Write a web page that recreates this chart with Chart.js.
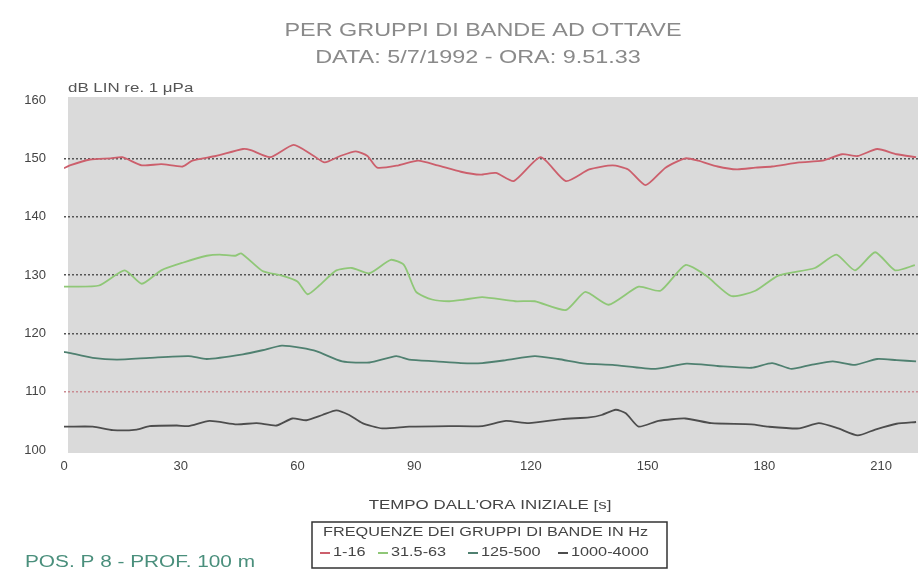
<!DOCTYPE html>
<html>
<head>
<meta charset="utf-8">
<script src="https://cdn.jsdelivr.net/npm/chart.js@4/dist/chart.umd.min.js"></script>
<style>
  body { margin: 0; background: #fff; }
  #wrap { width: 918px; height: 577px; }
</style>
</head>
<body>
<div id="wrap"><canvas id="myChart" width="918" height="577"></canvas></div>
<script>
// legend labels
var bandNames = ["1-16", "31.5-63", "125-500", "1000-4000"];
var bandColors = ["#cc5f6c", "#8fc777", "#4f8070", "#4d4d4d"];

// 1-16 Hz
var t1 = [0, 1.5, 6.7, 12, 15, 20, 25, 30.5, 33, 39, 46, 48, 53, 59, 64, 67, 71, 75, 78, 80.5, 86, 91, 96, 102, 107,
  111, 115.6, 122.5, 129, 135, 141, 145, 149.5, 154.6, 159.7, 163, 168, 173, 177.7, 182, 189, 195, 200, 204, 209, 214, 219];
var v1 = [148.3, 148.8, 149.8, 150, 150.2, 148.8, 149, 148.6, 149.6, 150.4, 151.6, 151.4, 150.2, 152.3, 150.5, 149.3, 150.4, 151.2, 150.4, 148.4, 148.8, 149.6, 148.8, 147.7, 147.2,
  147.5, 146.1, 150.2, 146.1, 148.1, 148.8, 148.1, 145.4, 148.4, 150, 149.6, 148.6, 148.1, 148.4, 148.6, 149.3, 149.6, 150.7, 150.4, 151.6, 150.7, 150.2];

// 31.5-63 Hz
var t2 = [0, 1.5, 9, 15.6, 20, 25, 30.5, 36.7, 40, 44, 45.6, 51, 56, 60, 62.6, 65.6, 70, 74, 78.5, 84, 87.4, 90.5, 94.6, 99, 103, 107.5,
  116, 121, 129, 134, 140, 147.7, 153.3, 159.7, 165, 171.5, 177.7, 183.6, 193, 198.5, 203.3, 208.5, 213.6, 218.7];
var v2 = [128, 128, 128.2, 130.8, 128.5, 130.8, 132.1, 133.3, 133.5, 133.3, 133.7, 130.7, 129.9, 128.9, 126.7, 128.2, 130.8, 131.2, 130.3, 132.6, 131.7, 127.1, 125.8, 125.5, 125.8, 126.2,
  125.5, 125.5, 124, 127.1, 124.9, 128, 127.3, 131.7, 129.9, 126.4, 127.3, 129.9, 131.2, 133.5, 130.8, 133.9, 130.8, 131.7];

// 125-500 Hz
var t3 = [0, 1, 7.4, 13.6, 22, 32, 36.7, 46, 51, 56, 61, 65, 71.5, 78.5, 85.4, 88.7, 95.6, 102, 107.5,
  113.6, 121, 127, 134, 141, 152, 160, 168, 176.7, 182, 187, 192, 197.6, 203.3, 209, 214, 219];
var v3 = [116.8, 116.7, 115.8, 115.5, 115.8, 116.1, 115.6, 116.4, 117.1, 117.9, 117.5, 116.9, 115.2, 115, 116.1, 115.5, 115.2, 114.9, 114.9,
  115.4, 116.1, 115.6, 114.8, 114.6, 113.9, 114.8, 114.4, 114.1, 114.9, 113.9, 114.6, 115.2, 114.6, 115.6, 115.4, 115.2];

// 1000-4000 Hz
var t4 = [0, 1, 7.4, 12.6, 18.7, 22, 29, 32, 37.4, 44.4, 49.5, 54.6, 58.7, 62.3, 66.4, 70, 73.3, 76.7, 81.8, 88.7, 99, 107.5,
  113.6, 119.5, 128, 135, 138.2, 141.8, 144.4, 147.7, 152.8, 159.7, 166.4, 176.7, 181, 189, 194, 199, 204, 208.5, 214, 219];
var v4 = [104, 104, 104, 103.4, 103.5, 104.1, 104.2, 104.1, 105, 104.4, 104.6, 104.2, 105.4, 105.1, 106, 106.8, 106, 104.6, 103.7, 104, 104.1, 104.1,
  105, 104.6, 105.3, 105.6, 106, 106.9, 106.3, 104, 105, 105.4, 104.6, 104.4, 104, 103.7, 104.6, 103.7, 102.5, 103.5, 104.5, 104.8];

var xTicks = [0, 30, 60, 90, 120, 150, 180, 210];
var yTicks = [100, 110, 120, 130, 140, 150, 160];

function pts(t, v) {
  return t.map(function (x, i) { return { x: x, y: v[i] }; });
}

// text in the picture is drawn a bit wide
var SX = 1.3;
function wideText(ctx, text, x, y, font, color, align) {
  ctx.save();
  ctx.font = font;
  ctx.fillStyle = color;
  ctx.textBaseline = "middle";
  ctx.textAlign = "left";
  var w = ctx.measureText(text).width * SX;
  var x0 = align === "center" ? x - w / 2 : (align === "right" ? x - w : x);
  ctx.translate(x0, y);
  ctx.scale(SX, 1);
  ctx.fillText(text, 0, 0);
  ctx.restore();
}

var extras = {
  id: "extras",
  beforeDraw: function (chart) {
    var ctx = chart.ctx, a = chart.chartArea;
    ctx.save();
    ctx.fillStyle = "#dadada";
    ctx.fillRect(a.left + 4, a.top - 3, a.right - a.left, a.bottom - a.top + 6);
    ctx.restore();
  },
  afterDraw: function (chart) {
    var ctx = chart.ctx;
    var f = "'Liberation Sans', Arial, sans-serif";
    wideText(ctx, "PER GRUPPI DI BANDE AD OTTAVE", 483, 31, "18px " + f, "#8a8a8a", "center");
    wideText(ctx, "DATA: 5/7/1992 - ORA: 9.51.33", 478, 58, "18px " + f, "#8a8a8a", "center");
    wideText(ctx, "dB LIN re. 1 \u03bcPa", 68, 88, "13px " + f, "#555", "left");
    wideText(ctx, "TEMPO DALL'ORA INIZIALE [s]", 490, 505, "13px " + f, "#444", "center");
    wideText(ctx, "POS. P 8 - PROF. 100 m", 25, 563, "16px " + f, "#4a8f7c", "left");

    // legend box
    ctx.save();
    ctx.fillStyle = "#fff";
    ctx.fillRect(312, 522, 355, 46);
    ctx.strokeStyle = "#333";
    ctx.lineWidth = 1.5;
    ctx.strokeRect(312, 522, 355, 46);
    ctx.restore();
    wideText(ctx, "FREQUENZE DEI GRUPPI DI BANDE IN Hz", 323, 533, "12.5px " + f, "#444", "left");
    var lx = [320, 378, 468, 558];
    for (var i = 0; i < bandNames.length; i++) {
      ctx.save();
      ctx.strokeStyle = bandColors[i];
      ctx.lineWidth = 2;
      ctx.beginPath();
      ctx.moveTo(lx[i], 553);
      ctx.lineTo(lx[i] + 10, 553);
      ctx.stroke();
      ctx.restore();
      wideText(ctx, bandNames[i], lx[i] + 13, 553, "12.5px " + f, "#444", "left");
    }
  }
};

var series = [pts(t1, v1), pts(t2, v2), pts(t3, v3), pts(t4, v4)];

new Chart("myChart", {
  type: "line",
  data: {
    datasets: series.map(function (d, i) {
      return {
        label: bandNames[i],
        data: d,
        borderColor: bandColors[i],
        borderWidth: 1.8,
        pointRadius: 0,
        tension: 0.2,
        fill: false
      };
    })
  },
  options: {
    responsive: false,
    animation: false,
    layout: { padding: { top: 100, left: 0, right: 0, bottom: 65 } },
    plugins: {
      legend: { display: false },
      title: { display: false },
      tooltip: { enabled: false }
    },
    scales: {
      x: {
        type: "linear",
        min: 0,
        max: 219.5,
        afterBuildTicks: function (s) { s.ticks = xTicks.map(function (v) { return { value: v }; }); },
        grid: { display: false, drawTicks: false },
        border: { display: false },
        ticks: {
          padding: 9,
          color: "#444",
          font: { size: 13, family: "'Liberation Sans', Arial, sans-serif" }
        },
        afterFit: function (s) { s.height = 62; s.paddingRight = 0; }
      },
      y: {
        min: 100,
        max: 160,
        afterBuildTicks: function (s) { s.ticks = yTicks.map(function (v) { return { value: v }; }); },
        grid: {
          drawTicks: false,
          lineWidth: 1.5,
          color: function (c) {
            var v = c.tick && c.tick.value;
            if (v === 100 || v === 160) return "rgba(0,0,0,0)";
            if (v === 110) return "#c98b92";
            return "#555";
          }
        },
        border: { display: false, dash: [2, 2] },
        ticks: {
          padding: 18,
          color: "#444",
          font: { size: 13, family: "'Liberation Sans', Arial, sans-serif" }
        },
        afterFit: function (s) { s.width = 64; }
      }
    }
  },
  plugins: [extras]
});
</script>
</body>
</html>
